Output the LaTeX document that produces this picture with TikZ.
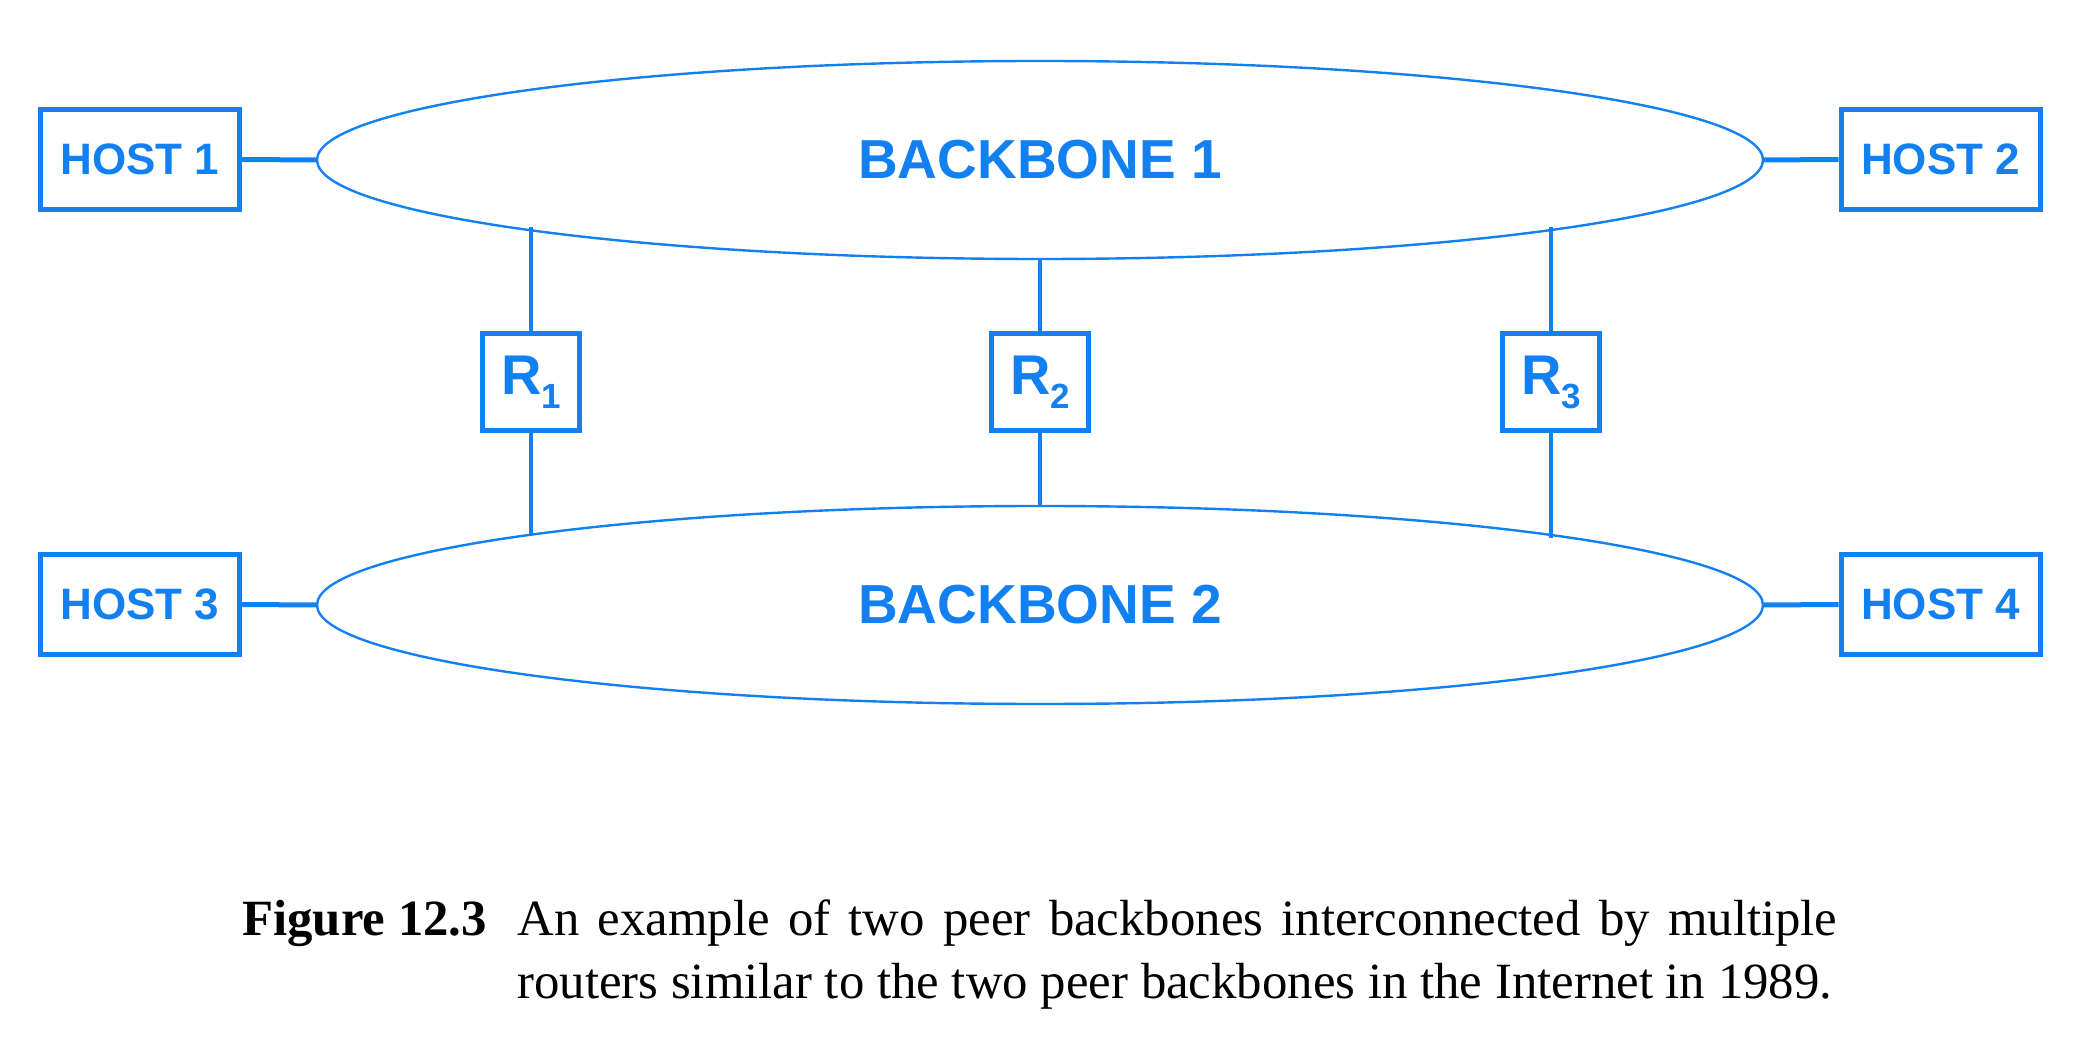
\documentclass[tikz,border=0pt]{standalone}
\usepackage{fontspec}
\setmainfont{Liberation Serif}
\newfontfamily\hvfont{Liberation Sans}
\usetikzlibrary{shapes.geometric}
\definecolor{netblue}{RGB}{18,128,240}
\newcommand\rlab[1]{{\fontsize{28}{28}\selectfont R}\raisebox{-7pt}{\fontsize{17.5}{17.5}\selectfont #1}}
\begin{document}
\begin{tikzpicture}[x=0.5pt,y=-0.5pt,
  hostbox/.style={draw=netblue, line width=2.5pt, minimum width=99.5pt, minimum height=50pt,
    inner sep=0pt, text=netblue, font=\hvfont\bfseries\fontsize{22}{22}\selectfont},
  routerbox/.style={draw=netblue, line width=2.5pt, minimum width=48.5pt, minimum height=48.5pt,
    inner sep=0pt, text=netblue, font=\hvfont\bfseries},
  backbone/.style={ellipse, draw=netblue, line width=1.2pt, minimum width=723pt, minimum height=99pt,
    inner sep=0pt, text=netblue, font=\hvfont\bfseries\fontsize{27.5}{27.5}\selectfont},
  hostlink/.style={draw=netblue, line width=2.5pt},
  routerlink/.style={draw=netblue, line width=1.9pt},
  captext/.style={inner sep=0pt, text=black, font=\fontsize{25.4}{31.5}\selectfont}
]
\useasboundingbox (0,0) rectangle (2079,1053);

% backbones
\node[backbone] (b1) at (1040,160) {BACKBONE 1};
\node[backbone] (b2) at (1040,605) {BACKBONE 2};

% hosts
\node[hostbox] (h1) at (140,159.5) {HOST 1};
\node[hostbox] (h2) at (1940.5,159.5) {HOST 2};
\node[hostbox] (h3) at (140,604.5) {HOST 3};
\node[hostbox] (h4) at (1940.5,604.5) {HOST 4};

% routers
\node[routerbox] (r1) at (531,382) {\rlab{1}};
\node[routerbox] (r2) at (1040,382) {\rlab{2}};
\node[routerbox] (r3) at (1551,382) {\rlab{3}};

% host links
\draw[hostlink] (h1.east) -- (b1.west);
\draw[hostlink] (h2.west) -- (b1.east);
\draw[hostlink] (h3.east) -- (b2.west);
\draw[hostlink] (h4.west) -- (b2.east);

% router links
\draw[routerlink] (r1.north) -- (r1 |- b1.187.83);
\draw[routerlink] (r1.south) -- (r1 |- b2.172.17);
\draw[routerlink] (r2.north) -- (r2 |- b1.south);
\draw[routerlink] (r2.south) -- (r2 |- b2.north);
\draw[routerlink] (r3.north) -- (r3 |- b1.-7.83);
\draw[routerlink] (r3.south) -- (r3 |- b2.7.83);

% caption
\node[captext, anchor=base west] (figlab) at (242,935) {\bfseries Figure 12.3};
\node[captext, anchor=base west] (captxt) at (517,935)
  {\parbox[t]{660pt}{\fontsize{25.4}{31.5}\selectfont An example of two peer backbones interconnected by multiple\linebreak
   routers similar to the two peer backbones in the Internet in 1989.}};
\end{tikzpicture}
\end{document}
